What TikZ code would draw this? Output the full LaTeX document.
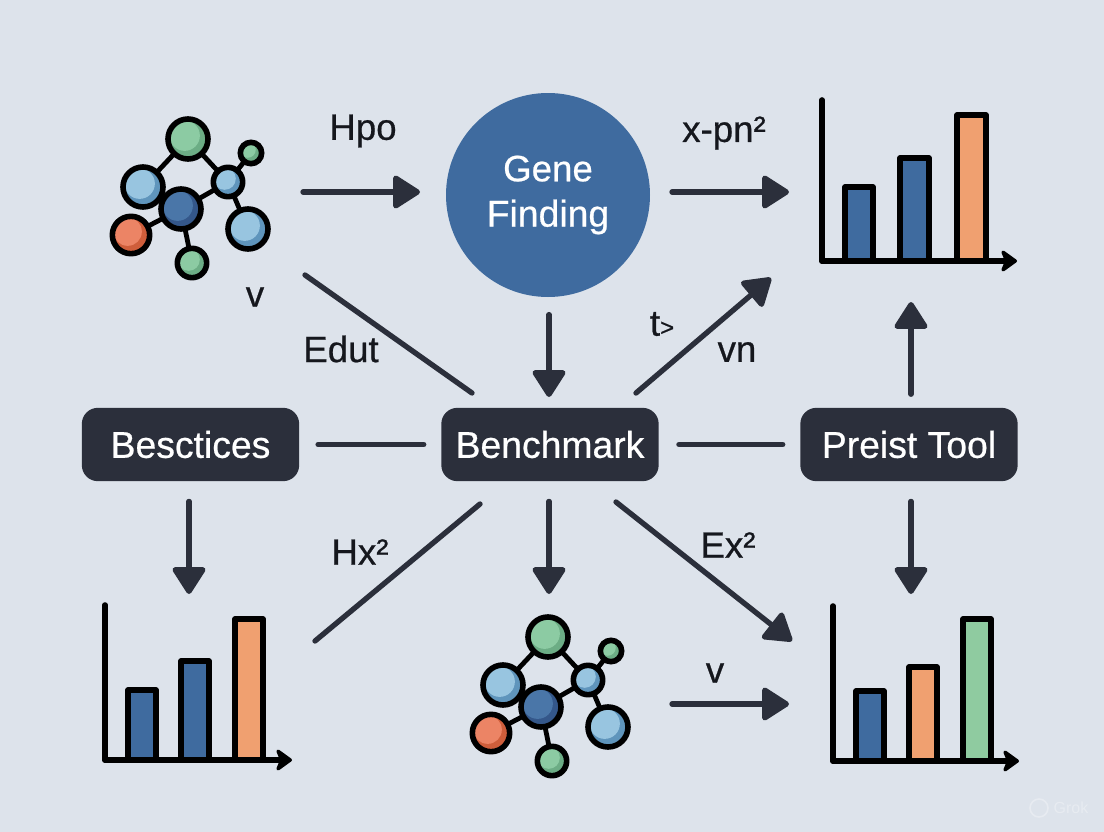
\documentclass[tikz,border=0pt]{standalone}
\usepackage{fontspec}
\setmainfont{Liberation Sans}
\usetikzlibrary{arrows.meta,calc}
\definecolor{bgc}{HTML}{DDE3EB}
\definecolor{ink}{HTML}{2B2F3B}
\definecolor{lblink}{HTML}{15171D}
\definecolor{geneblue}{HTML}{3F6B9F}
\definecolor{barblue}{HTML}{3F6B9F}
\definecolor{barorange}{HTML}{F0A070}
\definecolor{bargreen}{HTML}{8FCBA0}
\definecolor{gA}{HTML}{8CCBA3}\definecolor{gB}{HTML}{6CAD85}
\definecolor{lA}{HTML}{98C5E0}\definecolor{lB}{HTML}{5F95BC}
\definecolor{dA}{HTML}{4A76A8}\definecolor{dB}{HTML}{34578A}
\definecolor{oA}{HTML}{EC8465}\definecolor{oB}{HTML}{CF5E3B}
\newcommand{\bigfont}{\fontsize{28}{34}\selectfont\addfontfeature{FakeBold=0.6}}
\newcommand{\lblfont}{\fontsize{27.5}{32}\selectfont\addfontfeature{FakeBold=0.6}}
\tikzset{
  x=0.75pt,y=-0.75pt,
  link/.style={draw=ink,line width=4pt,line cap=round},
  arrowline/.style={link,-{Triangle[length=22pt,width=27pt,round]}},
  tag/.style={fill=ink,rounded corners=12pt,text=white,font=\bigfont,minimum width=163pt,minimum height=55pt,inner sep=0pt},
  lbl/.style={text=lblink,font=\lblfont,inner sep=0pt},
  bond/.style={draw=black,line width=3.6pt},
  ball/.style n args={3}{circle,draw=black,line width=4.2pt,minimum size=#1,inner sep=0pt,fill=#3,
    path picture={\fill[#2] ([xshift=-2.5pt,yshift=2.5pt]path picture bounding box.center) circle[radius=0.38*#1];}},
  axisline/.style={draw=black,line width=4.2pt,line cap=round,line join=round},
  axisarrow/.style={axisline,-{Stealth[length=14pt,width=20pt,inset=4pt,round]}},
  bar/.style={draw=black,line width=4.2pt,line join=round},
}
\newcommand{\molecule}[3]{%
  \begin{scope}[shift={(#2,#3)}]
    \draw[bond] (188,139) -- (143,187);
    \draw[bond] (188,139) -- (228,182);
    \draw[bond] (143,187) -- (181,209);
    \draw[bond] (181,209) -- (228,182);
    \draw[bond] (181,209) -- (131,235);
    \draw[bond] (181,209) -- (192,263);
    \draw[bond] (228,182) -- (251,153);
    \draw[bond] (228,182) -- (248,229);
    \node[ball={30pt}{gA}{gB}] (#1g) at (188,139) {};
    \node[ball={30pt}{lA}{lB}] (#1l) at (143,187) {};
    \node[ball={30pt}{dA}{dB}] (#1d) at (181,209) {};
    \node[ball={28pt}{oA}{oB}] (#1o) at (131,235) {};
    \node[ball={22pt}{gA}{gB}] (#1s) at (192,263) {};
    \node[ball={22pt}{lA}{lB}] (#1m) at (228,182) {};
    \node[ball={16pt}{gA}{gB}] (#1t) at (251,153) {};
    \node[ball={30pt}{lA}{lB}] (#1r) at (248,229) {};
  \end{scope}}
\newcommand{\chartaxes}[5]{%
  \coordinate (#1top) at (#2,#3);
  \coordinate (#1org) at (#2,#4);
  \coordinate (#1tip) at (#5,#4);
  \draw[axisline] (#1top) -- (#1org);
  \draw[axisarrow] (#1org) -- (#1tip);}
\newcommand{\chartbar}[5]{\draw[bar,fill=#1] (#2,#4) rectangle (#3,#5);}
\begin{document}
\begin{tikzpicture}
\useasboundingbox (0,0) rectangle (1104,832);
\fill[bgc] (0,0) rectangle (1104,832);
% charts
\chartbar{barblue}{845}{873}{187}{261}
\chartbar{barblue}{900}{929}{158}{261}
\chartbar{barorange}{957}{986}{115}{261}
\chartaxes{a}{822}{100}{261}{1017}
\chartbar{barblue}{128}{156}{690}{760}
\chartbar{barblue}{181}{209}{661}{760}
\chartbar{barorange}{235}{263}{619}{760}
\chartaxes{b}{105}{605}{760}{292}
\chartbar{barblue}{856}{884}{691}{761}
\chartbar{barorange}{909}{937}{667}{761}
\chartbar{bargreen}{963}{991}{619}{761}
\chartaxes{c}{833}{606}{761}{1019}
% molecules
\molecule{p}{0}{0}
\molecule{q}{360}{498}
% main nodes
\node[circle,fill=geneblue,minimum size=153pt,inner sep=0pt,text=white,align=center,font=\bigfont] (gene) at (548,195) {\fontsize{27.5}{33}\selectfont Gene\\Finding};
\node[tag] (besc) at (190.5,444.5) {Besctices};
\node[tag] (bench) at (550,444.5) {Benchmark};
\node[tag] (preist) at (909,444.5) {Preist Tool};
% free connector ends
\coordinate (m1e) at (303,192);
\coordinate (g1e) at (420,192);
\coordinate (g2s) at (672,192);
\coordinate (a1e) at (789,192);
\coordinate (d1s) at (305,275);
\coordinate (d1e) at (472,393);
\coordinate (d2s) at (636,393);
\coordinate (d2e) at (771,278);
\coordinate (d3s) at (480,504);
\coordinate (d3e) at (315,641);
\coordinate (d4s) at (616,502);
\coordinate (d4e) at (792,641);
\coordinate (m2s) at (672,704);
\coordinate (m2e) at (789,704);
\coordinate (v0e) at (549,397);
\coordinate (v1e) at (189,594);
\coordinate (v2e) at (549,594);
\coordinate (v3e) at (911,594);
\coordinate (v4e) at (911,302);
% connectors
\draw[arrowline] (m1e) -- (g1e);
\draw[arrowline] (g2s) -- (a1e);
\draw[link] (d1s) -- (d1e);
\draw[arrowline,shorten <=13pt] (gene.south -| v0e) -- (v0e);
\draw[arrowline] (d2s) -- (d2e);
\draw[arrowline,shorten <=10pt] (preist.north -| v4e) -- (v4e);
\draw[link,shorten <=14pt,shorten >=13pt] (besc) -- (bench);
\draw[link,shorten <=15pt,shorten >=13pt] (bench) -- (preist);
\draw[arrowline,shorten <=15pt] (besc.south -| v1e) -- (v1e);
\draw[arrowline,shorten <=15pt] (bench.south -| v2e) -- (v2e);
\draw[arrowline,shorten <=15pt] (preist.south -| v3e) -- (v3e);
\draw[link] (d3s) -- (d3e);
\draw[arrowline] (d4s) -- (d4e);
\draw[arrowline] (m2s) -- (m2e);
% labels
\node[lbl] (l1) at (363,131) {Hpo};
\node[lbl] (l2) at (724,133) {x-pn²};
\node[lbl] (l3) at (255,297) {v};
\node[lbl] (l4) at (341,349) {Edut};
\node[lbl] (l5) at (662,324) {t{\fontsize{18}{20}\selectfont>}};
\node[lbl] (l6) at (737,352) {vn};
\node[lbl] (l7) at (360,552) {Hx²};
\node[lbl] (l8) at (728,545) {Ex²};
\node[lbl] (l9) at (715,673) {v};
% watermark
\draw[white,opacity=.3,line width=1.2pt] (1039,808) circle[radius=9];
\node[text=white,opacity=.3,font=\fontsize{12}{14}\selectfont,inner sep=0pt] (grok) at (1071,808) {Grok};
\end{tikzpicture}
\end{document}
